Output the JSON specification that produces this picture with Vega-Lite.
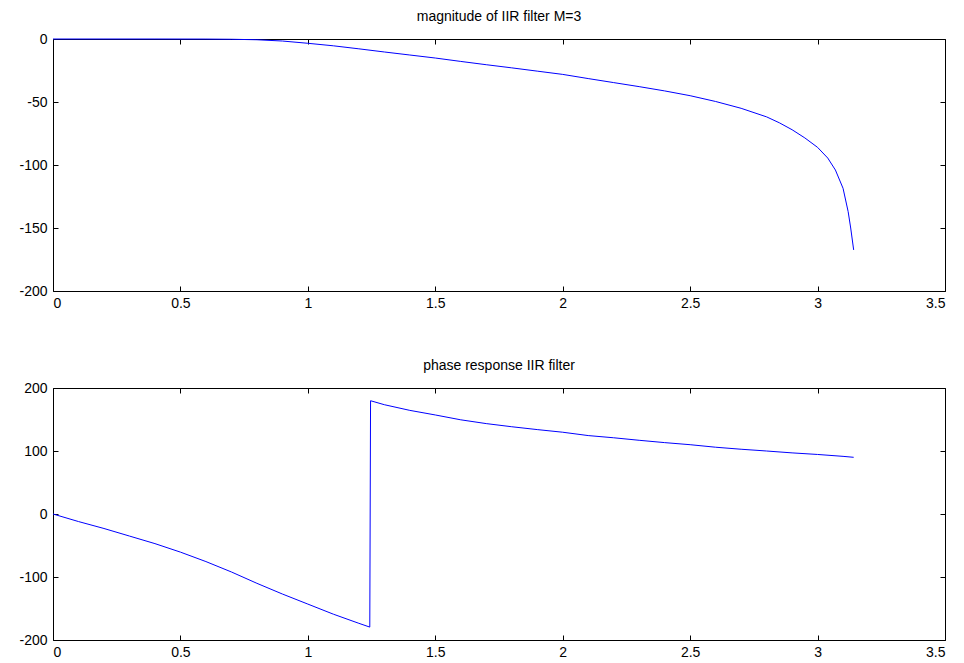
{
  "$schema": "https://vega.github.io/schema/vega-lite/v6.json",
  "background": "white",
  "padding": {"left": 18, "top": 9, "right": 5, "bottom": 5},
  "config": {
    "font": "Liberation Sans",
    "view": {"stroke": "black", "strokeWidth": 1},
    "axis": {
      "grid": false,
      "domain": false,
      "tickColor": "black",
      "tickSize": -5,
      "labelColor": "black",
      "labelFont": "Liberation Sans",
      "labelFontSize": 14,
      "labelExpr": "'' + datum.value",
      "title": null
    },
    "axisX": {"labelPadding": 10},
    "axisY": {"labelPadding": 11},
    "title": {"font": "Liberation Sans", "fontSize": 14, "fontWeight": "normal", "color": "black", "offset": 8},
    "concat": {"spacing": 47}
  },
  "datasets": {
    "mag": [
      {"w": 0, "v": 0}, {"w": 0.2, "v": 0}, {"w": 0.4, "v": 0}, {"w": 0.6, "v": -0.05},
      {"w": 0.7, "v": -0.2}, {"w": 0.8, "v": -0.6}, {"w": 0.9, "v": -1.6}, {"w": 1.0, "v": -3.4},
      {"w": 1.1, "v": -5.4}, {"w": 1.2, "v": -7.8}, {"w": 1.3, "v": -10.3}, {"w": 1.4, "v": -12.7},
      {"w": 1.5, "v": -15.1}, {"w": 1.6, "v": -17.8}, {"w": 1.7, "v": -20.4}, {"w": 1.8, "v": -22.9},
      {"w": 1.9, "v": -25.5}, {"w": 2.0, "v": -28.1}, {"w": 2.1, "v": -31.4}, {"w": 2.2, "v": -34.6},
      {"w": 2.3, "v": -37.8}, {"w": 2.4, "v": -41.2}, {"w": 2.5, "v": -45.0}, {"w": 2.6, "v": -49.6},
      {"w": 2.7, "v": -55.0}, {"w": 2.8, "v": -61.8}, {"w": 2.85, "v": -66.5}, {"w": 2.9, "v": -72},
      {"w": 2.95, "v": -78.5}, {"w": 3.0, "v": -86}, {"w": 3.04, "v": -94.5}, {"w": 3.07, "v": -104},
      {"w": 3.1, "v": -118.5}, {"w": 3.12, "v": -137}, {"w": 3.13, "v": -150}, {"w": 3.1416, "v": -167.4}
    ],
    "phase": [
      {"w": 0, "v": 0}, {"w": 0.1, "v": -12}, {"w": 0.2, "v": -23}, {"w": 0.3, "v": -35},
      {"w": 0.4, "v": -47}, {"w": 0.5, "v": -60.5}, {"w": 0.6, "v": -75.5}, {"w": 0.7, "v": -92},
      {"w": 0.8, "v": -110}, {"w": 0.9, "v": -127}, {"w": 1.0, "v": -143}, {"w": 1.1, "v": -159},
      {"w": 1.2, "v": -173.5}, {"w": 1.243, "v": -179.5}, {"w": 1.246, "v": 179.8}, {"w": 1.3, "v": 173.5},
      {"w": 1.4, "v": 164.5}, {"w": 1.5, "v": 157.2}, {"w": 1.6, "v": 149.5}, {"w": 1.7, "v": 143.5},
      {"w": 1.8, "v": 138.5}, {"w": 1.9, "v": 134}, {"w": 2.0, "v": 129.8}, {"w": 2.1, "v": 124.5},
      {"w": 2.2, "v": 121}, {"w": 2.3, "v": 117}, {"w": 2.4, "v": 113.3}, {"w": 2.5, "v": 110},
      {"w": 2.6, "v": 106}, {"w": 2.7, "v": 102.8}, {"w": 2.8, "v": 100}, {"w": 2.9, "v": 97},
      {"w": 3.0, "v": 94.5}, {"w": 3.1, "v": 91.5}, {"w": 3.1416, "v": 90}
    ]
  },
  "vconcat": [
    {
      "title": "magnitude of IIR filter M=3",
      "width": 892,
      "height": 252,
      "data": {"name": "mag"},
      "layer": [
        {
          "mark": {"type": "line", "color": "#0000ff", "strokeWidth": 1},
          "encoding": {
            "x": {"field": "w", "type": "quantitative", "scale": {"domain": [0, 3.5], "nice": false, "zero": false},
                  "axis": {"orient": "bottom", "values": [0, 0.5, 1, 1.5, 2, 2.5, 3, 3.5]}},
            "y": {"field": "v", "type": "quantitative", "scale": {"domain": [-200, 0], "nice": false},
                  "axis": {"orient": "left", "values": [-200, -150, -100, -50, 0]}}
          }
        },
        {
          "mark": {"type": "line", "opacity": 0},
          "encoding": {
            "x": {"field": "w", "type": "quantitative", "axis": {"orient": "top", "labels": false, "values": [0, 0.5, 1, 1.5, 2, 2.5, 3, 3.5]}},
            "y": {"field": "v", "type": "quantitative", "axis": {"orient": "right", "labels": false, "values": [-200, -150, -100, -50, 0]}}
          }
        }
      ],
      "resolve": {"axis": {"x": "independent", "y": "independent"}}
    },
    {
      "title": "phase response IIR filter",
      "width": 892,
      "height": 252,
      "data": {"name": "phase"},
      "layer": [
        {
          "mark": {"type": "line", "color": "#0000ff", "strokeWidth": 1},
          "encoding": {
            "x": {"field": "w", "type": "quantitative", "scale": {"domain": [0, 3.5], "nice": false, "zero": false},
                  "axis": {"orient": "bottom", "values": [0, 0.5, 1, 1.5, 2, 2.5, 3, 3.5]}},
            "y": {"field": "v", "type": "quantitative", "scale": {"domain": [-200, 200], "nice": false},
                  "axis": {"orient": "left", "values": [-200, -100, 0, 100, 200]}}
          }
        },
        {
          "mark": {"type": "line", "opacity": 0},
          "encoding": {
            "x": {"field": "w", "type": "quantitative", "axis": {"orient": "top", "labels": false, "values": [0, 0.5, 1, 1.5, 2, 2.5, 3, 3.5]}},
            "y": {"field": "v", "type": "quantitative", "axis": {"orient": "right", "labels": false, "values": [-200, -100, 0, 100, 200]}}
          }
        }
      ],
      "resolve": {"axis": {"x": "independent", "y": "independent"}}
    }
  ]
}
